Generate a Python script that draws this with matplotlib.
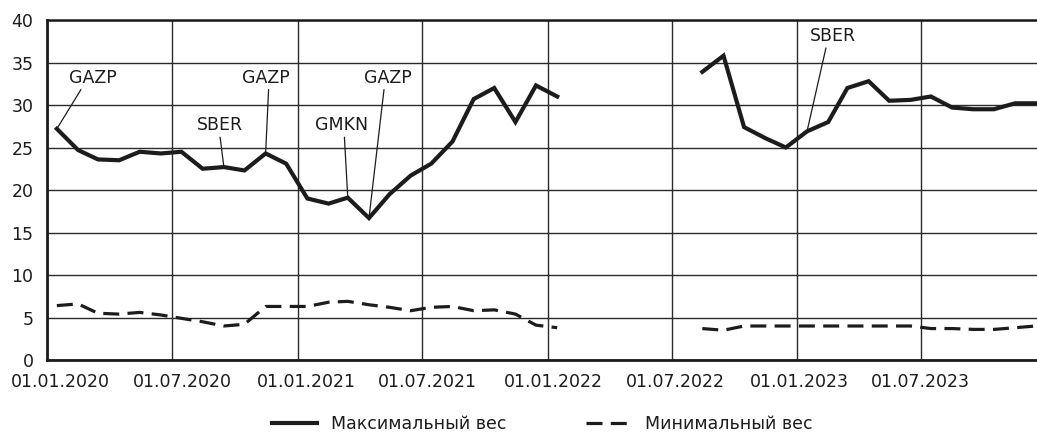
import numpy as np
import pandas as pd
import matplotlib
matplotlib.use("Agg")
import matplotlib.pyplot as plt
from matplotlib.transforms import ScaledTranslation

nan = np.nan

# monthly observations (mid-month), Jan 2020 .. Dec 2023
dates = pd.date_range("2020-01-01", periods=48, freq="MS") + pd.Timedelta(days=14)

max_weight = [27.2, 24.7, 23.6, 23.5, 24.5, 24.3, 24.5, 22.5, 22.7, 22.3, 24.3, 23.1,
              19.0, 18.4, 19.1, 16.7, 19.5, 21.7, 23.1, 25.7, 30.7, 32.0, 28.0, 32.3,
              31.0, nan, nan, nan, nan, nan, nan, 33.9, 35.8, 27.4, 26.1, 25.0,
              26.9, 28.0, 32.0, 32.8, 30.5, 30.6, 31.0, 29.7, 29.5, 29.5, 30.2, 30.2]

min_weight = [6.4, 6.6, 5.5, 5.4, 5.6, 5.3, 4.9, 4.5, 4.0, 4.2, 6.3, 6.3,
              6.3, 6.8, 6.9, 6.5, 6.2, 5.8, 6.2, 6.3, 5.8, 5.9, 5.4, 4.1,
              3.8, nan, nan, nan, nan, nan, nan, 3.7, 3.5, 4.0, 4.0, 4.0,
              4.0, 4.0, 4.0, 4.0, 4.0, 4.0, 3.7, 3.7, 3.6, 3.6, 3.8, 4.0]

# leader of the max weight at certain points
ann_labels = ["GAZP", "SBER", "GAZP", "GMKN", "GAZP", "SBER"]
ann_index = [0, 8, 10, 14, 15, 36]
ann_text_date = ["2020-03-08", "2020-09-09", "2020-11-16", "2021-03-06", "2021-05-13", "2023-02-22"]
ann_text_val = [33.2, 27.6, 33.2, 27.6, 33.2, 38.1]
ann_relx = [0.28, 0.5, 0.55, 0.55, 0.42, 0.36]

tick_dates = pd.to_datetime(["2020-01-01", "2020-07-01", "2021-01-01", "2021-07-01",
                             "2022-01-01", "2022-07-01", "2023-01-01", "2023-07-01"])
tick_labels = [d.strftime("%d.%m.%Y") for d in tick_dates]

ink = "#1c1c1c"
fs = 12.5

fig = plt.figure(figsize=(10.37, 4.34), dpi=100)
ax = fig.add_axes([0.0456, 0.1705, 0.9544, 0.7834])

ax.plot(dates, max_weight, color=ink, lw=3.0, solid_joinstyle="miter",
        label="Максимальный вес", zorder=3)
ax.plot(dates, min_weight, color=ink, lw=2.3, dashes=(5, 2.6),
        label="Минимальный вес", zorder=3)

for lab, i, td, tv, rx in zip(ann_labels, ann_index, ann_text_date, ann_text_val, ann_relx):
    ax.annotate(lab, xy=(dates[i], max_weight[i]), xytext=(pd.Timestamp(td), tv),
                ha="center", va="center", fontsize=fs, color=ink,
                arrowprops=dict(arrowstyle="-", color=ink, lw=0.9,
                                relpos=(rx, 0.0), shrinkA=0, shrinkB=0))

ax.set_ylim(0, 40)
ax.set_yticks(range(0, 41, 5))
ax.set_xlim(pd.Timestamp("2020-01-01"), pd.Timestamp("2023-12-17"))
ax.set_xticks(tick_dates)
ax.set_xticklabels(tick_labels)

ax.grid(True, color="#2a2a2a", lw=1.0)
ax.set_axisbelow(True)
ax.tick_params(length=0, labelsize=fs, labelcolor=ink)
ax.tick_params(axis="y", pad=10)
ax.tick_params(axis="x", pad=9)

# labels in the original sit on an even spacing slightly off the grid
shifts = [13, 11, 9, 6, 6, 3.5, 2, -1]
for t, dx in zip(ax.get_xticklabels(), shifts):
    t.set_transform(t.get_transform() + ScaledTranslation(dx / 100, 0, fig.dpi_scale_trans))

ax.spines["right"].set_visible(False)
ax.spines["top"].set_linewidth(1.8)
ax.spines["left"].set_linewidth(2.0)
ax.spines["bottom"].set_linewidth(2.0)
for s in ax.spines.values():
    s.set_color(ink)

ax.legend(loc="center", bbox_to_anchor=(0.5, -0.188), ncol=2, frameon=False,
          fontsize=fs, handlelength=2.6, handletextpad=0.8, columnspacing=4.6,
          labelcolor=ink, borderpad=0.2)

fig.savefig("out.png", dpi=100)
